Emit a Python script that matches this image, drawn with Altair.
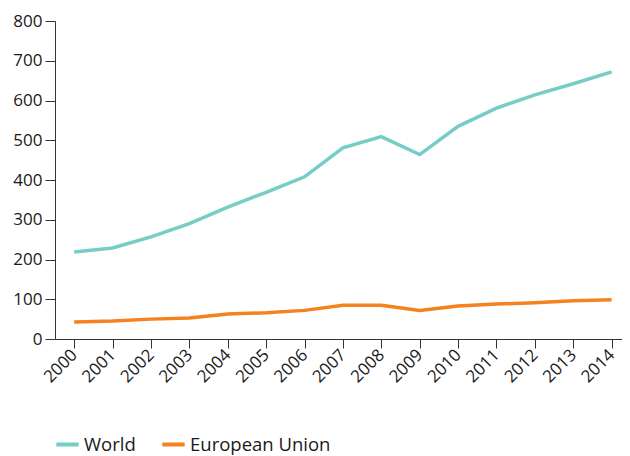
import altair as alt
import pandas as pd

years = list(range(2000, 2015))
world = [219, 229, 257, 290, 332, 369, 408, 481, 509, 464, 535, 581, 614, 642, 672]
eu = [43, 45, 50, 53, 63, 66, 72, 85, 85, 72, 83, 88, 91, 96, 99]
series = ["World", "European Union"]
colors = ["#76cdc6", "#f5821f"]
y_ticks = [0, 100, 200, 300, 400, 500, 600, 700, 800]

rows = []
for i, y in enumerate(years):
    rows.append({"year": y, "series": "World", "value": world[i]})
    rows.append({"year": y, "series": "European Union", "value": eu[i]})
df = pd.DataFrame(rows)

font = "Open Sans"

chart = alt.Chart(df).mark_line(strokeWidth=3.5).encode(
    x=alt.X("year:Q", scale=alt.Scale(domain=[1999.5, 2014.27], nice=False, zero=False),
            axis=alt.Axis(title=None, values=years, format="d", labelAngle=-45, labelAlign="right",
                          labelBaseline="middle", labelFontSize=17, labelColor="#1a1a1a",
                          labelFont=font, labelPadding=4, labelFlush=False, labelOverlap=False,
                          tickSize=9, tickColor="#333", domainColor="#333", grid=False)),
    y=alt.Y("value:Q", scale=alt.Scale(domain=[0, 800], nice=False),
            axis=alt.Axis(title=None, values=y_ticks,
                          labelFontSize=17, labelColor="#1a1a1a", labelFont=font, labelPadding=3,
                          tickSize=10, tickColor="#333", domainColor="#333", grid=False)),
    color=alt.Color("series:N", sort=series, scale=alt.Scale(domain=series, range=colors),
                    legend=alt.Legend(title=None, orient="none", legendX=-1, legendY=410,
                                      direction="horizontal", symbolType="stroke",
                                      symbolStrokeWidth=4, symbolSize=500,
                                      labelFontSize=18.5, labelColor="#1a1a1a", labelFont=font,
                                      columnPadding=18, labelOffset=3)),
).properties(
    width=567, height=318,
    autosize=alt.AutoSizeParams(type="none"),
    padding={"left": 47, "top": 13, "right": 0, "bottom": 117},
).configure_view(stroke=None)

chart.save("out.html", embed_options={"renderer": "svg", "actions": False})
